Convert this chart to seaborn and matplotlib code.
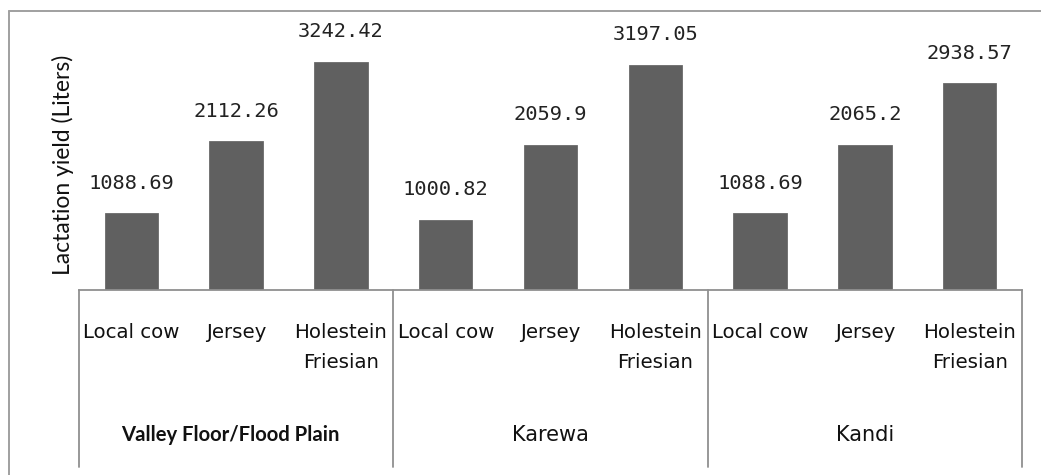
import matplotlib
matplotlib.use("Agg")
import matplotlib.pyplot as plt
import matplotlib.lines as mlines
import matplotlib.transforms as mtransforms
import seaborn as sns
import pandas as pd

# 数据
zones = ["Valley Floor/Flood Plain", "Karewa", "Kandi"]
breeds = ["Local cow", "Jersey", "Holestein\nFriesian"]
yield_valley = [1088.69, 2112.26, 3242.42]
yield_karewa = [1000.82, 2059.9, 3197.05]
yield_kandi = [1088.69, 2065.2, 2938.57]

sns.set_style("white")
plt.rcParams["font.family"] = ["DejaVu Sans"]

rows = []
for z, vals in zip(zones, [yield_valley, yield_karewa, yield_kandi]):
    for b, v in zip(breeds, vals):
        rows.append({"zone": z, "breed": b, "key": z + "|" + b, "yield": v})
df = pd.DataFrame(rows)

W, H = 1041, 475
fig = plt.figure(figsize=(W / 100, H / 100), dpi=100)
ax = fig.add_axes([79 / W, 1 - 290 / H, 943 / W, 270 / H])

sns.barplot(data=df, x="key", y="yield", color="#606060", width=0.51,
            saturation=1, edgecolor="#6a6a6a", linewidth=0.6, ax=ax)
ax.set_ylim(0, 3840)
ax.set_xlim(-0.5, len(df) - 0.5)

for c in ax.containers:
    ax.bar_label(c, fmt="{:g}", padding=15, fontsize=14.7,
                 family="DejaVu Sans Mono", color="#222222")

ax.set_xticks(range(len(df)))
ax.set_xticklabels(df["breed"], fontsize=14.2, color="#111111", linespacing=1.72)
ax.tick_params(axis="x", length=0, pad=24)
ax.set_yticks([])
ax.set_xlabel("")
ax.set_ylabel("")

for s in ["left", "top", "right"]:
    ax.spines[s].set_visible(False)
ax.spines["bottom"].set_color("#909090")
ax.spines["bottom"].set_linewidth(1.3)

# 分组分隔线和组标签
tr = mtransforms.blended_transform_factory(ax.transData, fig.transFigure)
for xs in [-0.5, 2.5, 5.5, 8.5]:
    ax.add_line(mlines.Line2D([xs, xs], [1 - 290 / H, 1 - 467 / H], transform=tr,
                              color="#909090", lw=1.3, clip_on=False))
for i, z in enumerate(zones):
    if i == 0:
        ax.text(3 * i + 1 - 0.06, 1 - 435 / H, z, transform=tr, ha="center", va="center",
                fontsize=14.6, fontweight="bold", family="Lato", color="#111111")
    else:
        ax.text(3 * i + 1, 1 - 435 / H, z, transform=tr, ha="center", va="center",
                fontsize=15, color="#111111")

fig.text(63 / W, 1 - 165 / H, "Lactation yield (Liters)", rotation=90,
         ha="center", va="center", fontsize=16.5, family="Lato", color="#111111")

# 外框
fig.add_artist(mlines.Line2D([9 / W, 1.01], [1 - 11 / H, 1 - 11 / H],
                             transform=fig.transFigure, color="#a0a0a0", lw=1.4))
fig.add_artist(mlines.Line2D([9 / W, 9 / W], [1 - 11 / H, -0.01],
                             transform=fig.transFigure, color="#a0a0a0", lw=1.4))

fig.savefig("out.png", dpi=100)
